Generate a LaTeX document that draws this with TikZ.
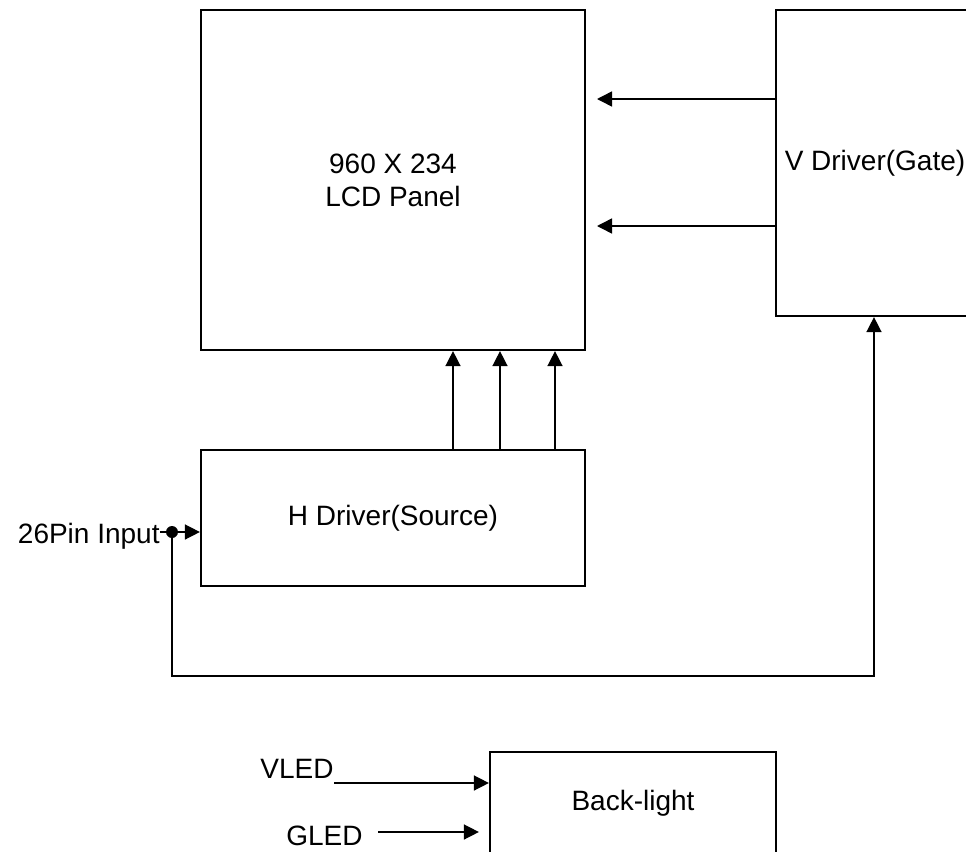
\documentclass[tikz,border=0pt]{standalone}
\usepackage{fontspec}
\setmainfont{Liberation Sans}
\usetikzlibrary{arrows.meta}

\begin{document}
\begin{tikzpicture}[x=0.5pt,y=-0.5pt]
\tikzstyle{every node}+=[inner sep=0pt, font=\fontsize{14}{16.5}\selectfont]
\tikzstyle{blk}=[draw, line width=1.1pt, align=center]
\tikzstyle{sig}=[line width=0.75pt, -{Triangle[length=7.5pt,width=7.5pt]}]
\useasboundingbox (0,0) rectangle (966,852);
\node [blk, minimum width=192pt, minimum height=170pt] (panel) at (393,180) {960 X 234\\LCD Panel};
\node [blk, minimum width=99pt, minimum height=153pt] (vdrv) at (875,163) {V Driver(Gate)};
\node [blk, minimum width=192pt, minimum height=68pt] (hdrv) at (393,518) {H Driver(Source)};
\node [blk, minimum width=143pt, minimum height=51pt] (blight) at (633,803) {Back-light};
% gate lines
\coordinate (gt1) at (597,99);
\coordinate (gt2) at (597,226);
\draw [sig] (vdrv.west |- gt1) -- (gt1);
\draw [sig] (vdrv.west |- gt2) -- (gt2);
% source lines
\foreach \x in {453,500,555}
  \draw [sig] (hdrv.north -| \x,0) -- (panel.south -| \x,0);
% input
\node [anchor=base east] (pin) at (160,543) {26Pin Input};
\node [circle, fill, minimum size=6pt] (dot) at (172,532) {};
\draw [line width=0.75pt] (pin.east |- dot) -- (dot);
\draw [sig] (dot) -- (dot -| hdrv.west);
\coordinate (turn) at (874,676);
\draw [sig] (dot) |- (turn) -- (vdrv.south -| turn);
% back-light
\node [anchor=base east] (vled) at (334,778) {VLED};
\node [anchor=base east] (gled) at (363,845) {GLED};
\coordinate (vl) at (334,783);
\coordinate (gl) at (378,832);
\draw [sig] (vl) -- (vl -| blight.west);
\draw [sig, shorten >=5pt] (gl) -- (gl -| blight.west);
\end{tikzpicture}
\end{document}
